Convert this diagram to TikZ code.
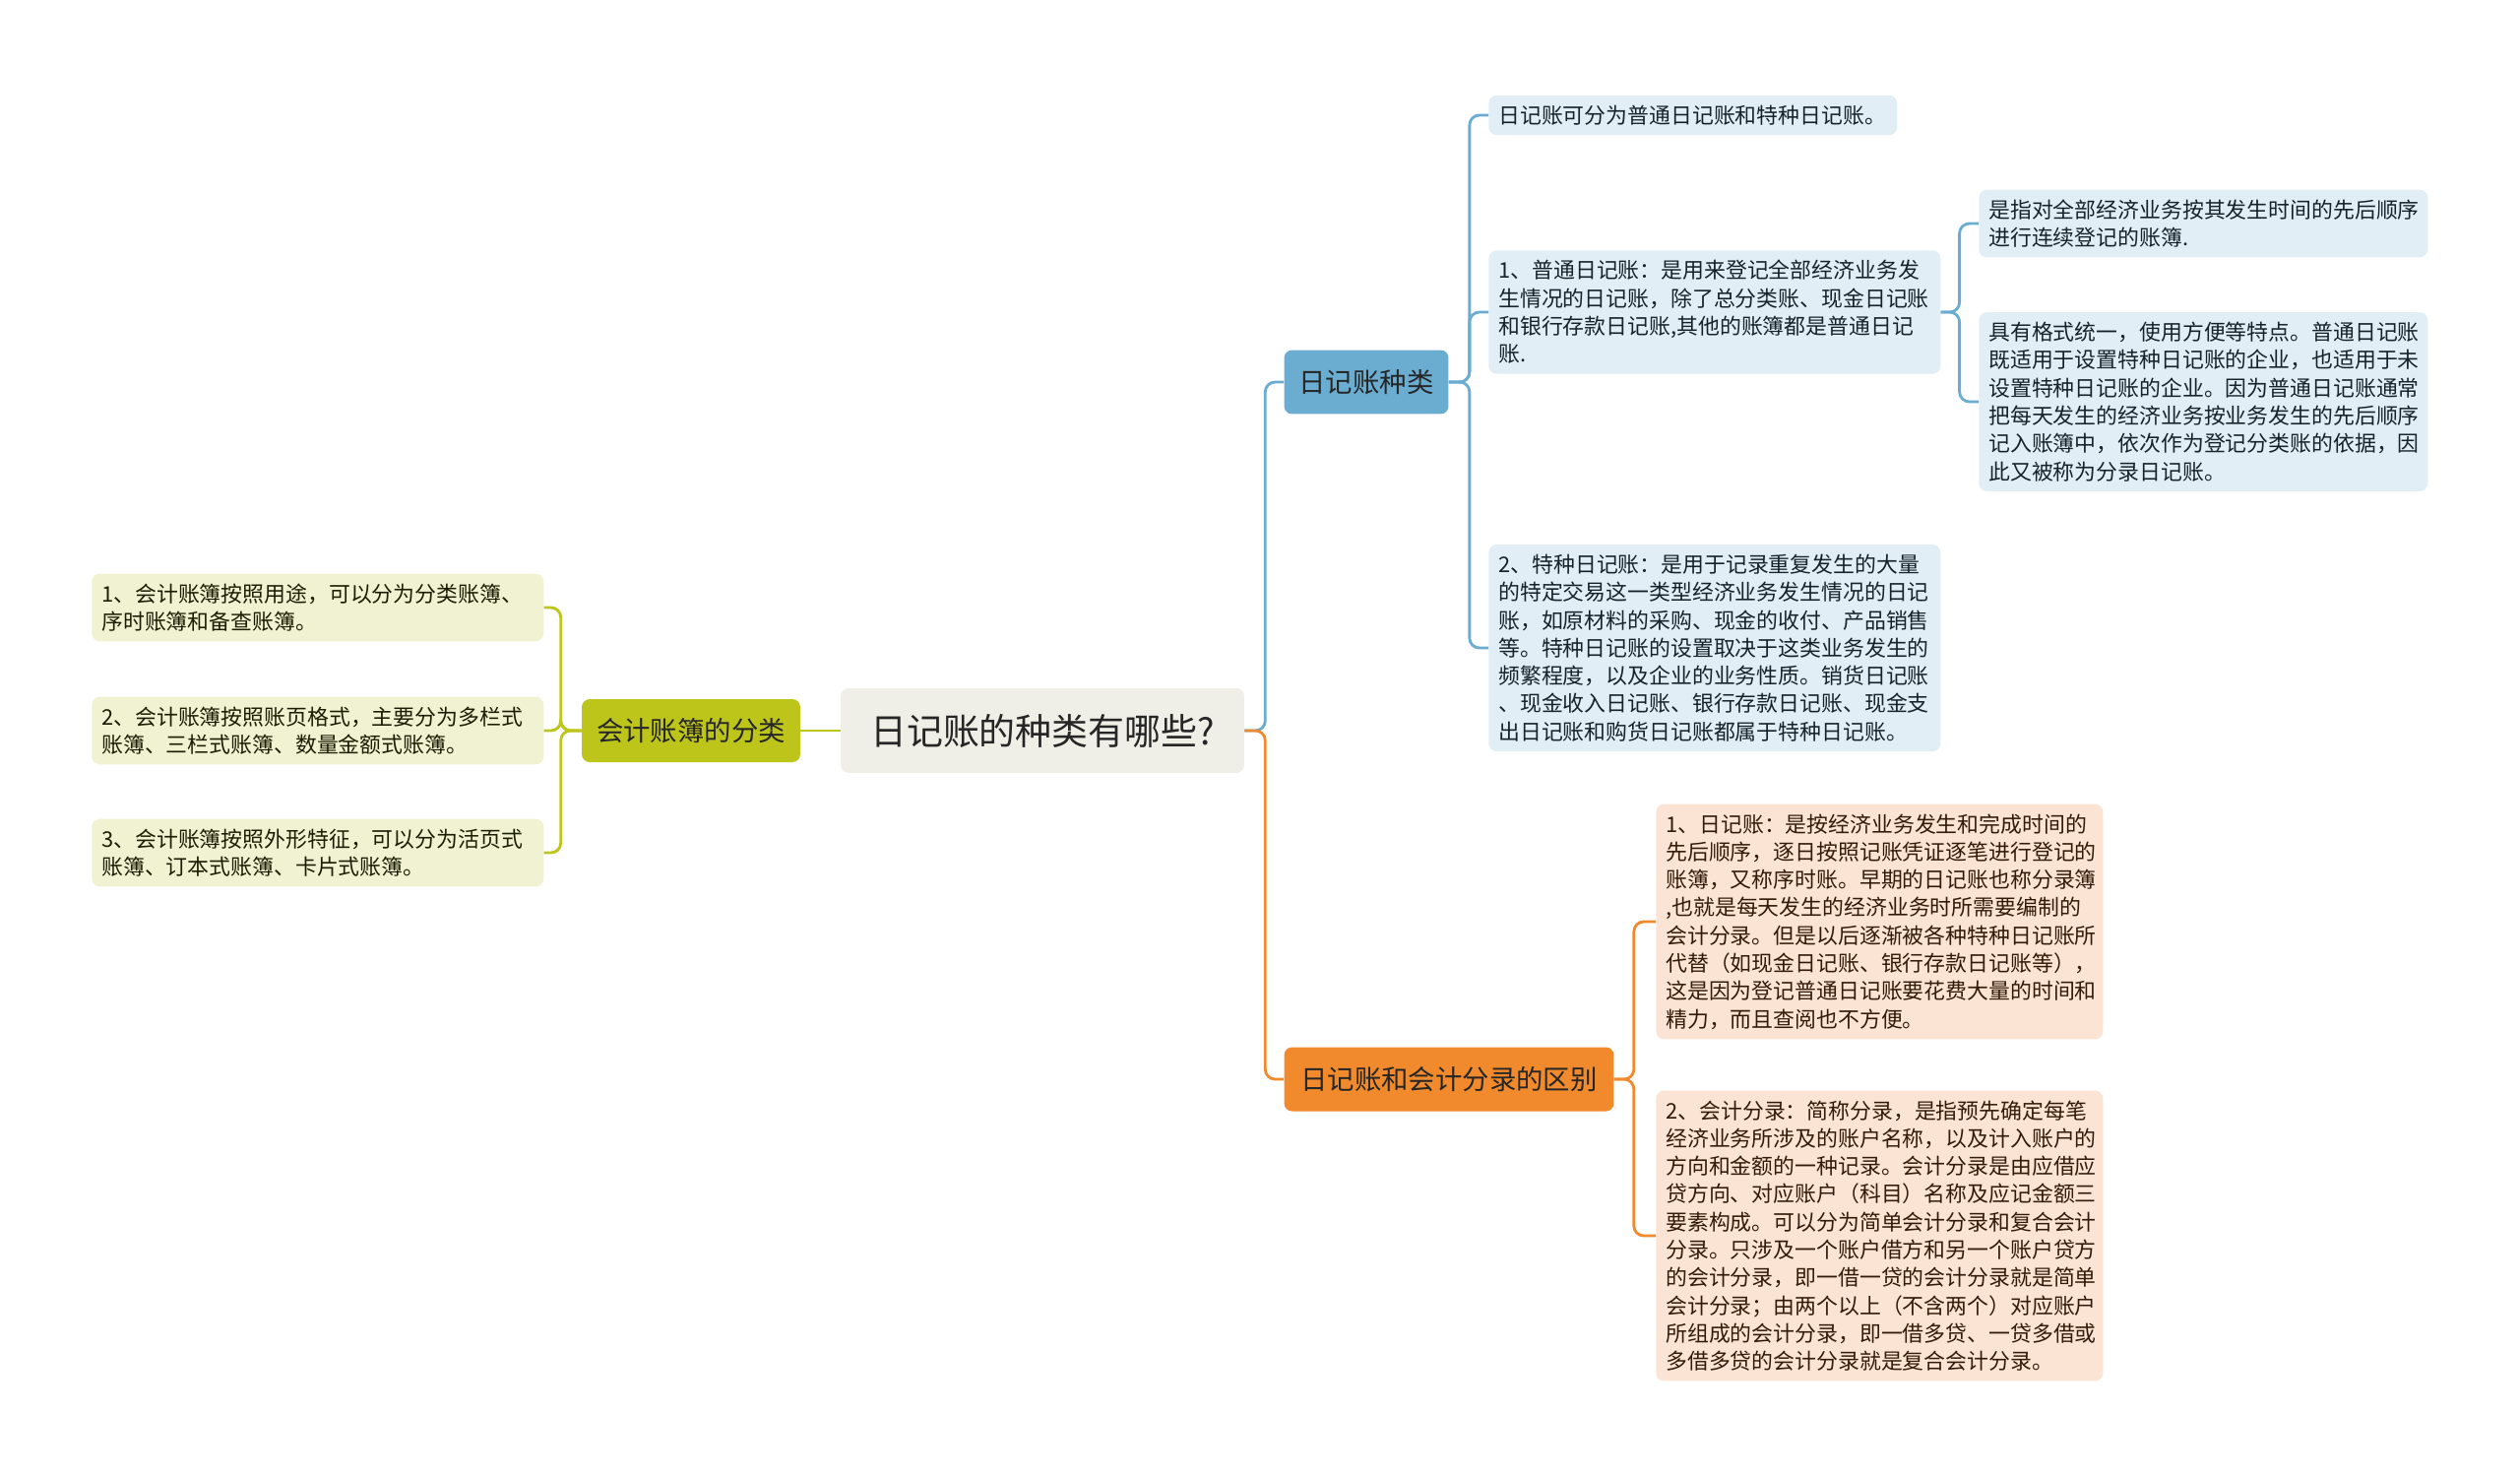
\documentclass[tikz,border=0pt]{standalone}
\usepackage{fontspec}
\setmainfont{Noto Sans CJK SC}
\definecolor{olv}{HTML}{BDC51B}
\definecolor{olvl}{HTML}{F0F2D2}
\definecolor{blu}{HTML}{6AADD1}
\definecolor{blul}{HTML}{E1EEF6}
\definecolor{org}{HTML}{F08A2C}
\definecolor{orgl}{HTML}{FCE4D4}
\definecolor{rootc}{HTML}{EFEFE8}

\begin{document}
\begin{tikzpicture}[x=0.02cm, y=-0.02cm,
    main/.style = {rounded corners=0.16cm, inner sep=0.2cm, align=left, text width=8.78cm, anchor=west, font=\fontsize{12.45pt}{16.1pt}\selectfont},
    top/.style = {rounded corners=0.16cm, inner sep=0pt, font=\fontsize{15.6pt}{18pt}\selectfont, text=black!85},
    link/.style = {line width=1.6pt, rounded corners=0.2cm}]
    \useasboundingbox (0,0) rectangle (2560,1501);
    \node[top, fill=rootc, minimum width=8.2cm, minimum height=1.72cm, font=\fontsize{21pt}{24pt}\selectfont] (1) at (1059,742) {日记账的种类有哪些?};
    \node[top, fill=olv, minimum width=4.44cm, minimum height=1.28cm] (2) at (702,742) {会计账簿的分类};
    \node[main, fill=olvl, text=black!85!olv] (3) at (93,617) {1、会计账簿按照用途，可以分为分类账簿、\\序时账簿和备查账簿。};
    \node[main, fill=olvl, text=black!85!olv] (4) at (93,742) {2、会计账簿按照账页格式，主要分为多栏式\\账簿、三栏式账簿、数量金额式账簿。};
    \node[main, fill=olvl, text=black!85!olv] (5) at (93,866) {3、会计账簿按照外形特征，可以分为活页式\\账簿、订本式账簿、卡片式账簿。};
    \node[top, fill=blu, minimum width=3.34cm, minimum height=1.3cm] (6) at (1388,388) {日记账种类};
    \node[top, fill=org, minimum width=6.7cm, minimum height=1.3cm] (7) at (1472,1096) {日记账和会计分录的区别};
    \node[main, fill=blul, text=black!80!blu, text width=7.9cm] (8) at (1512,117) {日记账可分为普通日记账和特种日记账。};
    \node[main, fill=blul, text=black!80!blu] (9) at (1512,317) {1、普通日记账：是用来登记全部经济业务发\\生情况的日记账，除了总分类账、现金日记账\\和银行存款日记账,其他的账簿都是普通日记\\账.};
    \node[main, fill=blul, text=black!80!blu] (10) at (1512,658) {2、特种日记账：是用于记录重复发生的大量\\的特定交易这一类型经济业务发生情况的日记\\账，如原材料的采购、现金的收付、产品销售\\等。特种日记账的设置取决于这类业务发生的\\频繁程度，以及企业的业务性质。销货日记账\\、现金收入日记账、银行存款日记账、现金支\\出日记账和购货日记账都属于特种日记账。};
    \node[main, fill=blul, text=black!80!blu, text width=8.72cm] (11) at (2010,227) {是指对全部经济业务按其发生时间的先后顺序\\进行连续登记的账簿.};
    \node[main, fill=blul, text=black!80!blu, text width=8.72cm] (12) at (2010,408) {具有格式统一，使用方便等特点。普通日记账\\既适用于设置特种日记账的企业，也适用于未\\设置特种日记账的企业。因为普通日记账通常\\把每天发生的经济业务按业务发生的先后顺序\\记入账簿中，依次作为登记分类账的依据，因\\此又被称为分录日记账。};
    \node[main, fill=orgl, text=black!80!org, text width=8.68cm] (13) at (1682,936) {1、日记账：是按经济业务发生和完成时间的\\先后顺序，逐日按照记账凭证逐笔进行登记的\\账簿，又称序时账。早期的日记账也称分录簿\\,也就是每天发生的经济业务时所需要编制的\\会计分录。但是以后逐渐被各种特种日记账所\\代替（如现金日记账、银行存款日记账等），\\这是因为登记普通日记账要花费大量的时间和\\精力，而且查阅也不方便。};
    \node[main, fill=orgl, text=black!80!org, text width=8.68cm] (14) at (1682,1255) {2、会计分录：简称分录，是指预先确定每笔\\经济业务所涉及的账户名称，以及计入账户的\\方向和金额的一种记录。会计分录是由应借应\\贷方向、对应账户（科目）名称及应记金额三\\要素构成。可以分为简单会计分录和复合会计\\分录。只涉及一个账户借方和另一个账户贷方\\的会计分录，即一借一贷的会计分录就是简单\\会计分录；由两个以上（不含两个）对应账户\\所组成的会计分录，即一借多贷、一贷多借或\\多借多贷的会计分录就是复合会计分录。};
    \draw[link, olv] (1.west) -- (2.east);
    \draw[link, olv] (2.west) -- ++(-21,0) |- (3.east);
    \draw[link, olv] (2.west) -- ++(-21,0) |- (4.east);
    \draw[link, olv] (2.west) -- ++(-21,0) |- (5.east);
    \draw[link, blu] (1.east) -- ++(21,0) |- (6.west);
    \draw[link, org] (1.east) -- ++(21,0) |- (7.west);
    \draw[link, blu] (6.east) -- ++(21,0) |- (8.west);
    \draw[link, blu] (6.east) -- ++(21,0) |- (9.west);
    \draw[link, blu] (6.east) -- ++(21,0) |- (10.west);
    \draw[link, blu] (9.east) -- ++(19,0) |- (11.west);
    \draw[link, blu] (9.east) -- ++(19,0) |- (12.west);
    \draw[link, org] (7.east) -- ++(20,0) |- (13.west);
    \draw[link, org] (7.east) -- ++(20,0) |- (14.west);
\end{tikzpicture}
\end{document}
